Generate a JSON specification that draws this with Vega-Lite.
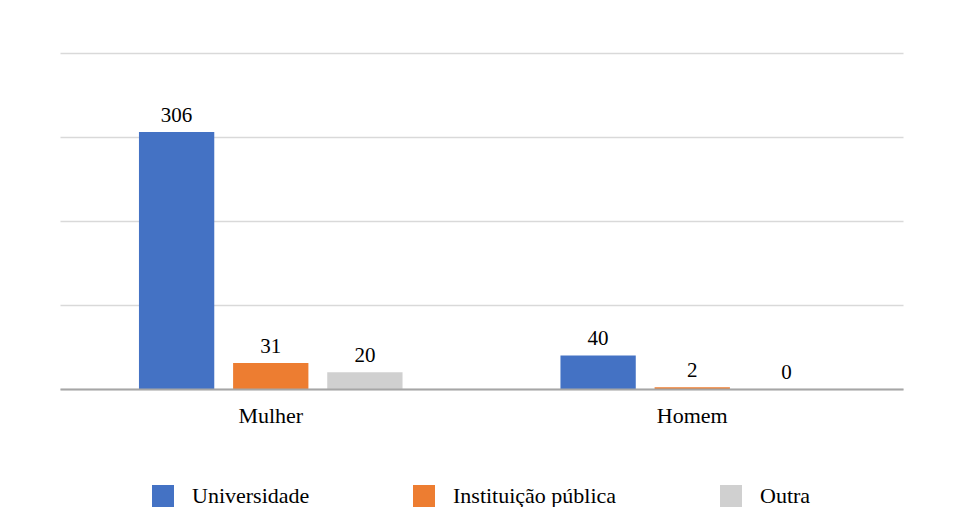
{
  "$schema": "https://vega.github.io/schema/vega-lite/v6.json",
  "width": 843,
  "height": 336,
  "padding": {"left": 60, "top": 53, "right": 55, "bottom": 0},
  "background": "white",
  "config": {
    "view": {"stroke": null},
    "font": "'Liberation Serif', 'Times New Roman', Times, serif"
  },
  "data": {
    "values": [
      {"sexo": "Mulher", "tipo": "Universidade", "n": 306},
      {"sexo": "Mulher", "tipo": "Instituição pública", "n": 31},
      {"sexo": "Mulher", "tipo": "Outra", "n": 20},
      {"sexo": "Homem", "tipo": "Universidade", "n": 40},
      {"sexo": "Homem", "tipo": "Instituição pública", "n": 2},
      {"sexo": "Homem", "tipo": "Outra", "n": 0}
    ]
  },
  "encoding": {
    "x": {
      "field": "sexo", "type": "nominal", "sort": ["Mulher", "Homem"],
      "scale": {"paddingInner": 0.33, "paddingOuter": 0.165},
      "axis": {
        "title": null, "labelAngle": 0, "ticks": false, "labelPadding": 33,
        "labelBaseline": "alphabetic",
        "labelFont": "'Liberation Serif', 'Times New Roman', Times, serif", "labelFontSize": 22, "labelColor": "#000000",
        "domainColor": "#A6A6A6", "domainWidth": 2, "zindex": 1
      }
    },
    "xOffset": {
      "field": "tipo", "type": "nominal",
      "sort": ["Universidade", "Instituição pública", "Outra"],
      "scale": {"paddingInner": 0.2, "paddingOuter": 0.1}
    },
    "y": {
      "field": "n", "type": "quantitative",
      "scale": {"domain": [0, 400]},
      "axis": {
        "title": null, "labels": false, "ticks": false, "domain": false,
        "values": [0, 100, 200, 300, 400],
        "gridColor": "#D9D9D9", "gridWidth": 1.5
      }
    }
  },
  "layer": [
    {
      "mark": {"type": "bar"},
      "encoding": {
        "color": {
          "field": "tipo", "type": "nominal",
          "sort": ["Universidade", "Instituição pública", "Outra"],
          "scale": {
            "domain": ["Universidade", "Instituição pública", "Outra"],
            "range": ["#4472C4", "#ED7D31", "#D0D0D0"]
          },
          "legend": {
            "title": null, "orient": "none", "legendX": 92, "legendY": 432,
            "direction": "horizontal",
            "symbolType": "square", "symbolSize": 484, "symbolStrokeWidth": 0,
            "labelFont": "'Liberation Serif', 'Times New Roman', Times, serif", "labelFontSize": 22, "labelColor": "#000000",
            "labelOffset": 18, "columnPadding": 103, "labelLimit": 400
          }
        }
      }
    },
    {
      "mark": {"type": "text", "baseline": "alphabetic", "dy": -10, "fontSize": 21, "font": "'Liberation Serif', 'Times New Roman', Times, serif", "color": "#000000"},
      "encoding": {
        "text": {"field": "n", "type": "quantitative"}
      }
    }
  ]
}
